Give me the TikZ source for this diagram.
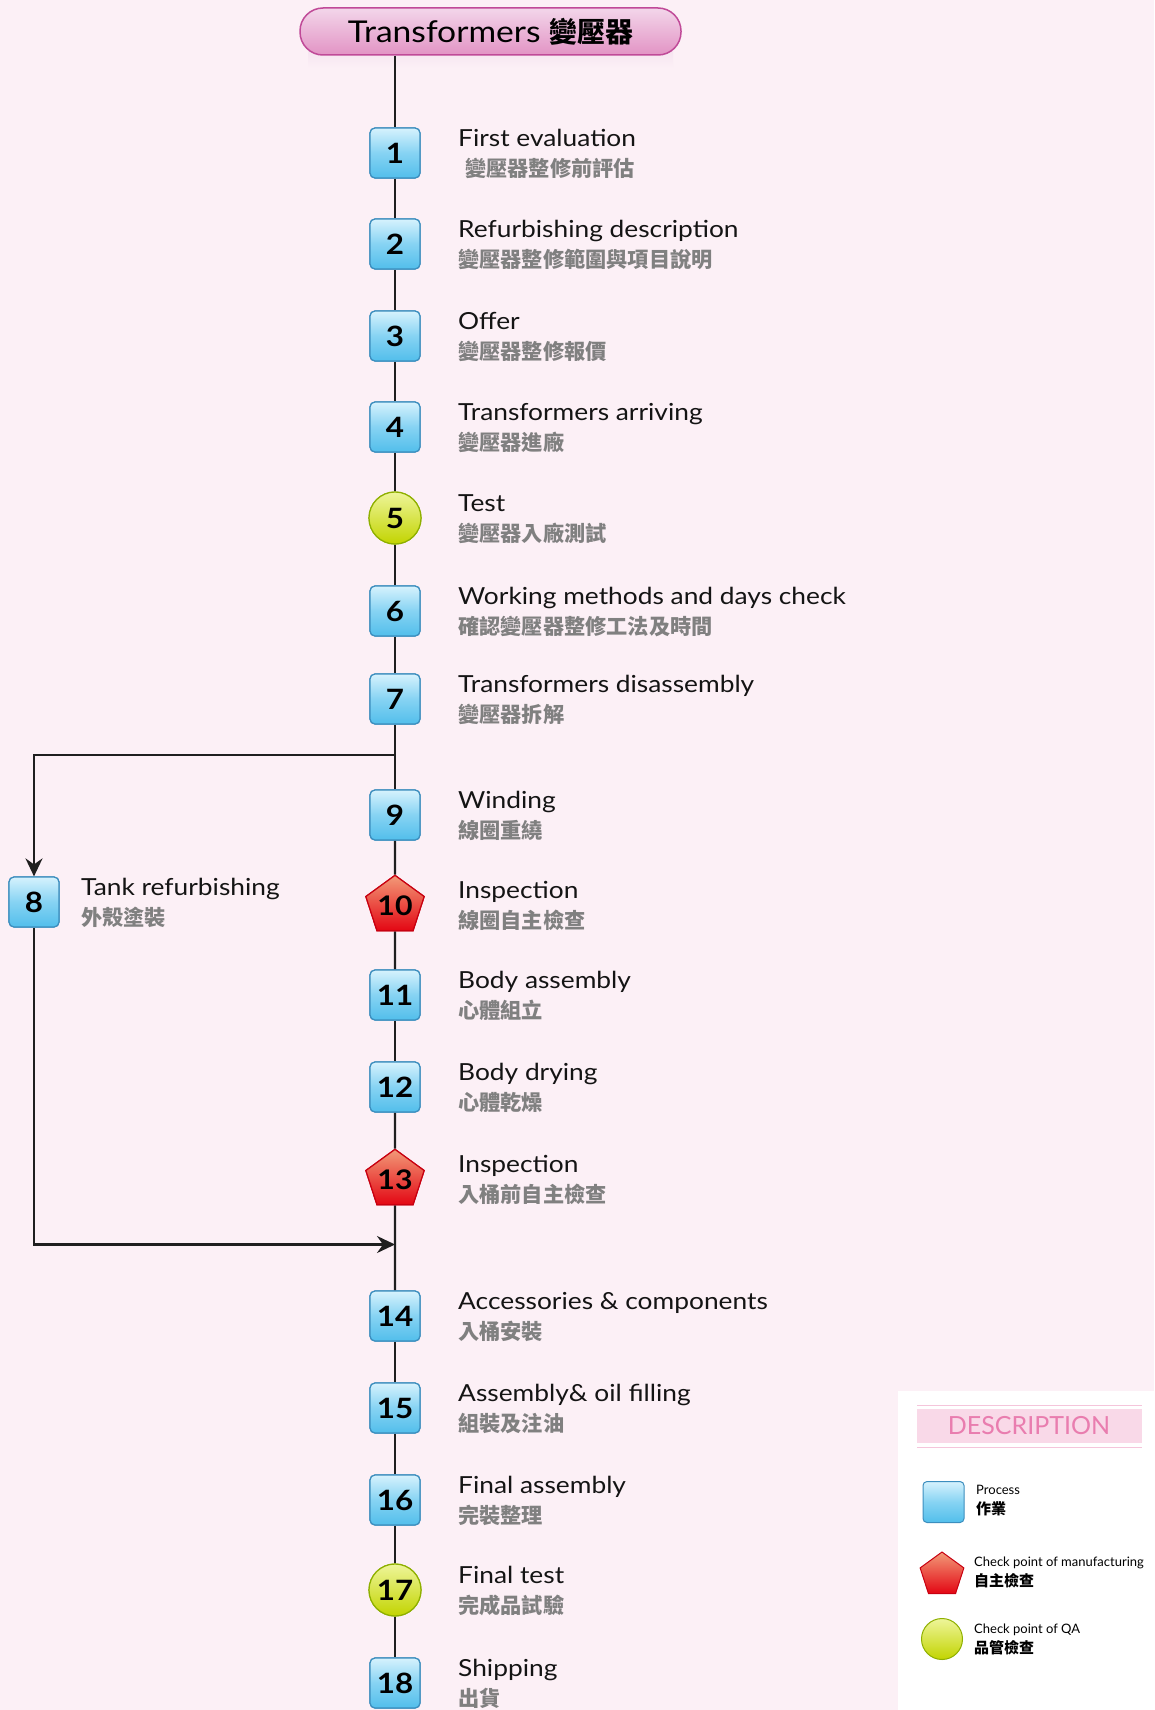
\documentclass[tikz,border=0pt]{standalone}
\usepackage{fontspec}
\setmainfont{Lato}
\newfontfamily\enf{Lato}[FakeStretch=1.12]
\newfontfamily\cjk{Noto Sans CJK TC}
\usetikzlibrary{shapes.geometric,arrows.meta}
\definecolor{bg}{HTML}{FCF0F6}
\definecolor{boxtop}{HTML}{D6F2FD}
\definecolor{boxmid}{HTML}{86D3F3}
\definecolor{boxbot}{HTML}{52BEEB}
\definecolor{boxline}{HTML}{3C8EBE}
\definecolor{redtop}{HTML}{F29A78}
\definecolor{redbot}{HTML}{E30613}
\definecolor{redline}{HTML}{C80010}
\definecolor{grtop}{HTML}{EEF59A}
\definecolor{grbot}{HTML}{C2D400}
\definecolor{grline}{HTML}{8FB000}
\definecolor{pilltop}{HTML}{F3D6EA}
\definecolor{pillbot}{HTML}{E293C4}
\definecolor{pillline}{HTML}{C04A98}
\definecolor{zhgray}{HTML}{808080}
\definecolor{descpink}{HTML}{E97DAF}
\definecolor{descband}{HTML}{F9D9E8}
\tikzset{
  proc/.style={rounded corners=5pt, minimum size=50pt, inner sep=0pt, draw=boxline, line width=1.2pt,
    top color=boxtop, bottom color=boxbot, middle color=boxmid, font=\enf\bfseries\fontsize{28}{28}\selectfont},
  mfg/.style={regular polygon, regular polygon sides=5, minimum size=54pt, inner sep=0pt, draw=redline, line width=1.2pt,
    top color=redtop, bottom color=redbot, font=\enf\bfseries\fontsize{27}{27}\selectfont, yshift=-1pt},
  qa/.style={circle, minimum size=52pt, inner sep=0pt, draw=grline, line width=1.2pt,
    top color=grtop, bottom color=grbot, font=\enf\bfseries\fontsize{28}{28}\selectfont},
  en/.style={anchor=base west, inner sep=0pt, font=\enf\fontsize{23.5}{23.5}\selectfont, text=black!92},
  zh/.style={anchor=base west, inner sep=0pt, font=\cjk\bfseries\fontsize{21.2}{21.2}\selectfont, text=zhgray},
  spine/.style={line width=2.4pt, draw=black!88},
  lgen/.style={anchor=base west, inner sep=0pt, font=\fontsize{13}{13}\selectfont},
  lgzh/.style={anchor=base west, inner sep=0pt, font=\cjk\bfseries\fontsize{15}{15}\selectfont},
  tip/.style={-{Stealth[length=18pt,width=17pt,inset=6pt]}},
}
\newcommand{\steplabel}[4]{%
  \node[en] (#1e) at (458,#2-7) {#3};
  \node[zh] (#1z) at (458,#2+23) {#4};}
\begin{document}
\begin{tikzpicture}[x=1pt,y=-1pt]
\fill[bg] (0,0) rectangle (1154,1710);
\useasboundingbox (0,0) rectangle (1154,1710);
% legend panel
\fill[white] (898,1391) rectangle (1154,1710);
\fill[descband] (917,1409) rectangle (1142,1443);
\draw[descpink!45, line width=1pt] (917,1405) -- (1142,1405);
\draw[descpink!45, line width=1pt] (917,1447) -- (1142,1447);
\node[text=descpink, font=\fontsize{25}{25}\selectfont, inner sep=0pt] (desc) at (1029,1426) {DESCRIPTION};
% title
\shade[top color=pillline!14, bottom color=bg] (308,52) rectangle (673,68);
\node[draw=pillline, line width=1.5pt, rounded corners=23pt, minimum width=381pt, minimum height=47pt,
  top color=pilltop, bottom color=pillbot, inner sep=0pt] (title) at (490.5,31.5)
  {\enf\fontsize{30}{30}\selectfont Transformers \cjk\bfseries\fontsize{28}{28}\selectfont 變壓器};
% nodes
\node[proc] (n1) at (395,153) {1};
\node[proc] (n2) at (395,244) {2};
\node[proc] (n3) at (395,336) {3};
\node[proc] (n4) at (395,427) {4};
\node[qa]   (n5) at (395,518) {5};
\node[proc] (n6) at (395,611) {6};
\node[proc] (n7) at (395,699) {7};
\node[proc] (n9) at (395,815) {9};
\node[mfg]  (n10) at (395,905) {10};
\node[proc] (n11) at (395,995) {11};
\node[proc] (n12) at (395,1087) {12};
\node[mfg]  (n13) at (395,1179) {13};
\node[proc] (n14) at (395,1316) {14};
\node[proc] (n15) at (395,1408) {15};
\node[proc] (n16) at (395,1500) {16};
\node[qa]   (n17) at (395,1590) {17};
\node[proc] (n18) at (395,1683) {18};
\node[proc] (n8) at (34,902) {8};
\coordinate (b1) at (395,755);
\coordinate (b2) at (395,1244.5);
% connectors
\draw[spine] (n1 |- title.south) -- (n1);
\foreach \a/\b in {n1/n2,n2/n3,n3/n4,n4/n5,n5/n6,n6/n7,n7/n9,n9/n10,n10/n11,n11/n12,n12/n13,n13/n14,n14/n15,n15/n16,n16/n17,n17/n18}
  \draw[spine] (\a) -- (\b);
\draw[spine, tip] (b1) -| (n8.north);
\draw[spine, tip] (n8.south) |- (b2);
% redraw nodes on top of connectors
\node[proc] at (n1) {1};
\node[proc] at (n2) {2};
\node[proc] at (n3) {3};
\node[proc] at (n4) {4};
\node[qa] at (n5) {5};
\node[proc] at (n6) {6};
\node[proc] at (n7) {7};
\node[proc] at (n9) {9};
\node[mfg] at (395,905) {10};
\node[proc] at (n11) {11};
\node[proc] at (n12) {12};
\node[mfg] at (395,1179) {13};
\node[proc] at (n14) {14};
\node[proc] at (n15) {15};
\node[proc] at (n16) {16};
\node[qa] at (n17) {17};
\node[proc] at (n18) {18};
\node[proc] at (n8) {8};
% labels
\node[en] (l1e) at (458,146) {First evaluation};
\node[zh] (l1z) at (465,176) {變壓器整修前評估};
\steplabel{l2}{244}{Refurbishing description}{變壓器整修範圍與項目說明}
\steplabel{l3}{336}{Offer}{變壓器整修報價}
\steplabel{l4}{427}{Transformers arriving}{變壓器進廠}
\steplabel{l5}{518}{Test}{變壓器入廠測試}
\steplabel{l6}{611}{Working methods and days check}{確認變壓器整修工法及時間}
\steplabel{l7}{699}{Transformers disassembly}{變壓器拆解}
\steplabel{l9}{815}{Winding}{線圈重繞}
\steplabel{l10}{905}{Inspection}{線圈自主檢查}
\steplabel{l11}{995}{Body assembly}{心體組立}
\steplabel{l12}{1087}{Body drying}{心體乾燥}
\steplabel{l13}{1179}{Inspection}{入桶前自主檢查}
\steplabel{l14}{1316}{Accessories \& components}{入桶安裝}
\steplabel{l15}{1408}{Assembly\& oil filling}{組裝及注油}
\steplabel{l16}{1500}{Final assembly}{完裝整理}
\steplabel{l17}{1590}{Final test}{完成品試驗}
\steplabel{l18}{1683}{Shipping}{出貨}
\node[en] (l8e) at (81,895) {Tank refurbishing};
\node[zh] (l8z) at (81,925) {外殼塗裝};
% legend
\node[proc, minimum size=41pt, rounded corners=4pt, line width=1pt] (lg1) at (943.5,1502) {};
\node[mfg, minimum size=46pt, line width=1pt] (lg2) at (942,1574) {};
\node[qa, minimum size=41pt, line width=1pt] (lg3) at (942,1639) {};
\node[lgen] (lg1e) at (976,1494) {Process};
\node[lgzh] (lg1z) at (976,1514) {作業};
\node[lgen] (lg2e) at (974,1566) {Check point of manufacturing};
\node[lgzh] (lg2z) at (974,1586) {自主檢查};
\node[lgen] (lg3e) at (974,1633) {Check point of QA};
\node[lgzh] (lg3z) at (974,1653) {品管檢查};
\end{tikzpicture}
\end{document}
